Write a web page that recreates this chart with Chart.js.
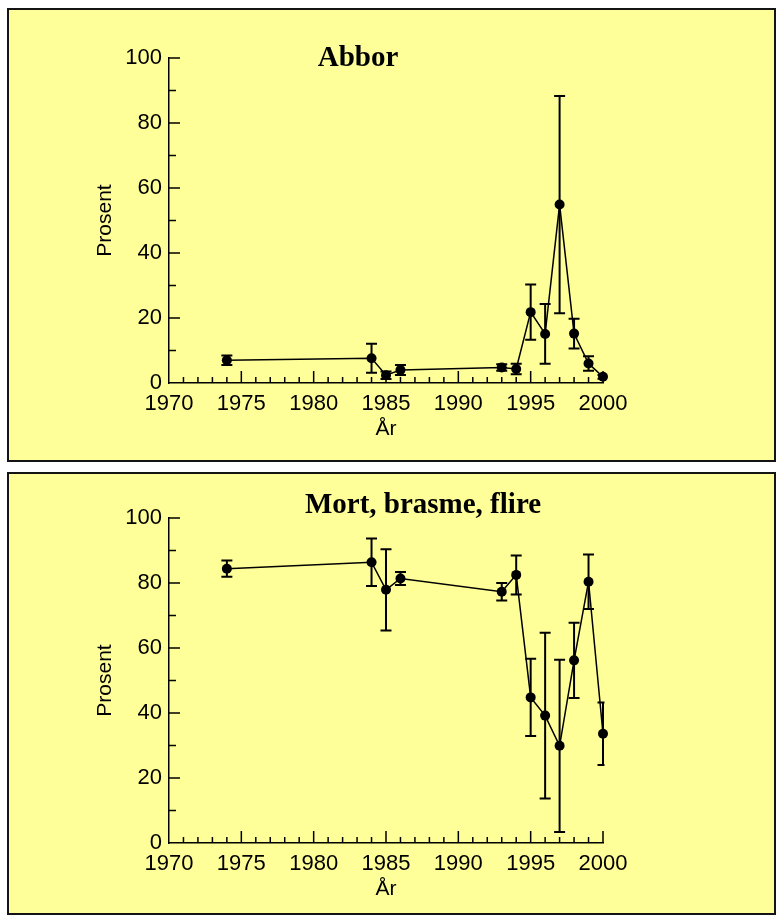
<!DOCTYPE html>
<html>
<head>
<meta charset="utf-8">
<script src="https://cdn.jsdelivr.net/npm/chart.js@4/dist/chart.umd.min.js"></script>
<style>
  html, body { margin: 0; padding: 0; background: #ffffff; }
  body { width: 776px; height: 918px; position: relative; overflow: hidden; }
  .panel { position: absolute; left: 7px; width: 765px; border: 2px solid #141414; background: #ffff99; }
  #panel1 { top: 8px; height: 450px; }
  #panel2 { top: 472px; height: 439px; }
  canvas { position: absolute; left: 0; }
  #c1 { top: 0; }
  #c2 { top: 460px; }
</style>
</head>
<body>
<div class="panel" id="panel1"></div>
<div class="panel" id="panel2"></div>
<canvas id="c1" width="776" height="458"></canvas>
<canvas id="c2" width="776" height="458"></canvas>
<script>
// Sampling years
const years = [1974, 1984, 1985, 1986, 1993, 1994, 1995, 1996, 1997, 1998, 1999, 2000];

// Abbor: share (%) and error bar half-length
const abbor    = [7.0, 7.6, 2.4, 4.0, 4.8, 4.3, 21.8, 15.1, 54.9, 15.2, 6.0, 1.9];
const abborErr = [1.45, 4.45, 1.15, 1.55, 1.0, 1.6, 8.5, 9.2, 33.4, 4.6, 2.2, 0.6];

// Mort, brasme, flire: share (%) and error bar half-length
const mort    = [84.4, 86.4, 77.9, 81.4, 77.3, 82.5, 44.8, 39.2, 29.9, 56.2, 80.4, 33.6];
const mortErr = [2.5, 7.3, 12.5, 2.0, 2.7, 6.0, 11.9, 25.5, 26.5, 11.6, 8.4, 9.6];

// Axis tick labels
const xTicks = [1970, 1975, 1980, 1985, 1990, 1995, 2000];
const yTicks = [0, 20, 40, 60, 80, 100];

const SANS = '"Liberation Sans", Arial, sans-serif';
const SERIF = '"Liberation Serif", "Times New Roman", serif';

// Inward major/minor tick marks, error bars and the panel heading
const panelDecor = {
  id: 'panelDecor',
  beforeDatasetsDraw(chart) {
    const { ctx, chartArea } = chart;
    const ds = chart.data.datasets[0];
    const meta = chart.getDatasetMeta(0);
    const ys = chart.scales.y;
    ctx.save();
    ctx.beginPath();
    ctx.rect(chartArea.left, 0, chartArea.right - chartArea.left + 1.5, chart.height);
    ctx.clip();
    ctx.strokeStyle = '#000';
    ctx.lineWidth = 2;
    const cap = 5.5;
    meta.data.forEach((pt, i) => {
      const v = ds.data[i].y, e = ds.errors[i];
      const x = pt.x;
      const yTop = ys.getPixelForValue(v + e);
      const yBot = ys.getPixelForValue(v - e);
      ctx.beginPath();
      ctx.moveTo(x, yTop); ctx.lineTo(x, yBot);
      ctx.moveTo(x - cap, yTop); ctx.lineTo(x + cap, yTop);
      ctx.moveTo(x - cap, yBot); ctx.lineTo(x + cap, yBot);
      ctx.stroke();
    });
    ctx.restore();
  },
  afterDraw(chart, args, opts) {
    const { ctx, chartArea } = chart;
    const xs = chart.scales.x, ys = chart.scales.y;
    ctx.save();
    ctx.strokeStyle = '#000';
    ctx.lineWidth = 1.5;
    ctx.beginPath();
    for (let v = 10; v <= 100; v += 10) {
      const py = ys.getPixelForValue(v);
      const len = v % 20 === 0 ? 11 : 7;
      ctx.moveTo(chartArea.left, py);
      ctx.lineTo(chartArea.left + len, py);
    }
    for (let yr = 1971; yr <= 2000; yr++) {
      const px = xs.getPixelForValue(yr);
      const len = yr % 5 === 0 ? 12 : 6;
      ctx.moveTo(px, chartArea.bottom);
      ctx.lineTo(px, chartArea.bottom - len);
    }
    ctx.stroke();
    ctx.fillStyle = '#000';
    ctx.font = 'bold 29px ' + SERIF;
    ctx.textAlign = 'center';
    ctx.textBaseline = 'alphabetic';
    ctx.fillText(opts.text, opts.x, opts.y);
    ctx.restore();
  }
};

function makeChart(canvasId, values, errors, heading) {
  const points = years.map((yr, i) => ({ x: yr, y: values[i] }));
  return new Chart(document.getElementById(canvasId), {
    type: 'line',
    data: {
      datasets: [{
        data: points,
        errors: errors,
        borderColor: '#000',
        borderWidth: 1.5,
        backgroundColor: '#000',
        pointRadius: 5,
        pointBackgroundColor: '#000',
        pointBorderWidth: 0,
        tension: 0,
        clip: false
      }]
    },
    options: {
      responsive: false,
      animation: false,
      devicePixelRatio: 1,
      layout: { padding: { left: 89, right: 173, top: 58, bottom: 12 } },
      plugins: {
        legend: { display: false },
        tooltip: { enabled: false },
        panelDecor: heading
      },
      scales: {
        x: {
          type: 'linear',
          min: 1970,
          max: 2000,
          afterBuildTicks: s => { s.ticks = xTicks.map(v => ({ value: v })); },
          afterFit: s => { s.height = 63; },
          grid: { display: false, drawTicks: false, tickLength: 0 },
          border: { display: true, color: '#000', width: 1.5 },
          ticks: {
            padding: 8,
            color: '#000',
            font: { family: SANS, size: 22 },
            callback: v => String(v),
            maxRotation: 0
          },
          title: {
            display: true,
            text: 'År',
            color: '#000',
            font: { family: SANS, size: 21 },
            padding: { top: 4, bottom: 4 }
          }
        },
        y: {
          min: 0,
          max: 100,
          afterBuildTicks: s => { s.ticks = yTicks.map(v => ({ value: v })); },
          afterFit: s => { s.width = 80; },
          grid: { display: false, drawTicks: false, tickLength: 0 },
          border: { display: true, color: '#000', width: 1.5 },
          ticks: {
            padding: 7,
            color: '#000',
            font: { family: SANS, size: 22 },
            callback: v => String(v)
          },
          title: {
            display: true,
            text: 'Prosent',
            color: '#000',
            font: { family: SANS, size: 21 },
            padding: { top: 4, bottom: 4 }
          }
        }
      }
    },
    plugins: [panelDecor]
  });
}

makeChart('c1', abbor, abborErr, { text: 'Abbor', x: 358, y: 66 });
makeChart('c2', mort, mortErr, { text: 'Mort, brasme, flire', x: 423, y: 53 });
</script>
</body>
</html>
